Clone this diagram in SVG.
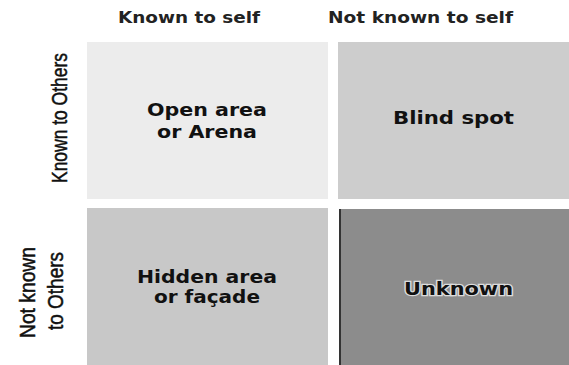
<svg xmlns="http://www.w3.org/2000/svg" width="569" height="365" viewBox="0 0 569 365">
<style>
.hdr{font-family:"DejaVu Sans","Verdana",sans-serif;font-weight:bold;font-size:16px;fill:#222}
.side{font-family:"Liberation Sans","Arial",sans-serif;font-size:22px;fill:#111;stroke:#111;stroke-width:0.5px}
.lbl{font-family:"DejaVu Sans","Verdana",sans-serif;font-weight:bold;font-size:17px;fill:#111}
.halo{stroke:#dcdcdc;stroke-width:2.5px;paint-order:stroke}
</style>
<rect width="569" height="365" fill="#ffffff"/>
<g id="header-known">
<text class="hdr" x="118" y="23" textLength="142" lengthAdjust="spacingAndGlyphs">Known to self</text>
</g>
<g id="header-notknown">
<text class="hdr" x="328" y="23" textLength="185" lengthAdjust="spacingAndGlyphs">Not known to self</text>
</g>
<g id="row-known">
<text class="side" transform="translate(67,183) rotate(-90)" x="0" y="0" textLength="130" lengthAdjust="spacingAndGlyphs">Known to Others</text>
</g>
<g id="row-notknown">
<text class="side" transform="translate(35,338) rotate(-90)" x="0" y="0" textLength="91" lengthAdjust="spacingAndGlyphs">Not known</text>
<text class="side" transform="translate(63,330) rotate(-90)" x="0" y="0" textLength="78" lengthAdjust="spacingAndGlyphs">to Others</text>
</g>
<g id="open-area">
<rect x="87" y="42" width="241" height="157" fill="#ececec"/>
<text class="lbl" x="147" y="116" textLength="120" lengthAdjust="spacingAndGlyphs">Open area</text>
<text class="lbl" x="157" y="138" textLength="100" lengthAdjust="spacingAndGlyphs">or Arena</text>
</g>
<g id="blind-spot">
<rect x="338" y="42" width="231" height="157" fill="#cdcdcd"/>
<text class="lbl" x="393" y="124" textLength="121" lengthAdjust="spacingAndGlyphs">Blind spot</text>
</g>
<g id="hidden-area">
<rect x="87" y="208" width="241" height="157" fill="#c8c8c8"/>
<text class="lbl" x="137" y="283" textLength="140" lengthAdjust="spacingAndGlyphs">Hidden area</text>
<text class="lbl" x="154" y="303" textLength="106" lengthAdjust="spacingAndGlyphs">or façade</text>
</g>
<g id="unknown">
<rect x="339" y="209" width="230" height="156" fill="#8c8c8c"/>
<rect x="339" y="209" width="2" height="156" fill="#333"/>
<text class="lbl halo" x="404" y="295" textLength="109" lengthAdjust="spacingAndGlyphs">Unknown</text>
</g>
</svg>
